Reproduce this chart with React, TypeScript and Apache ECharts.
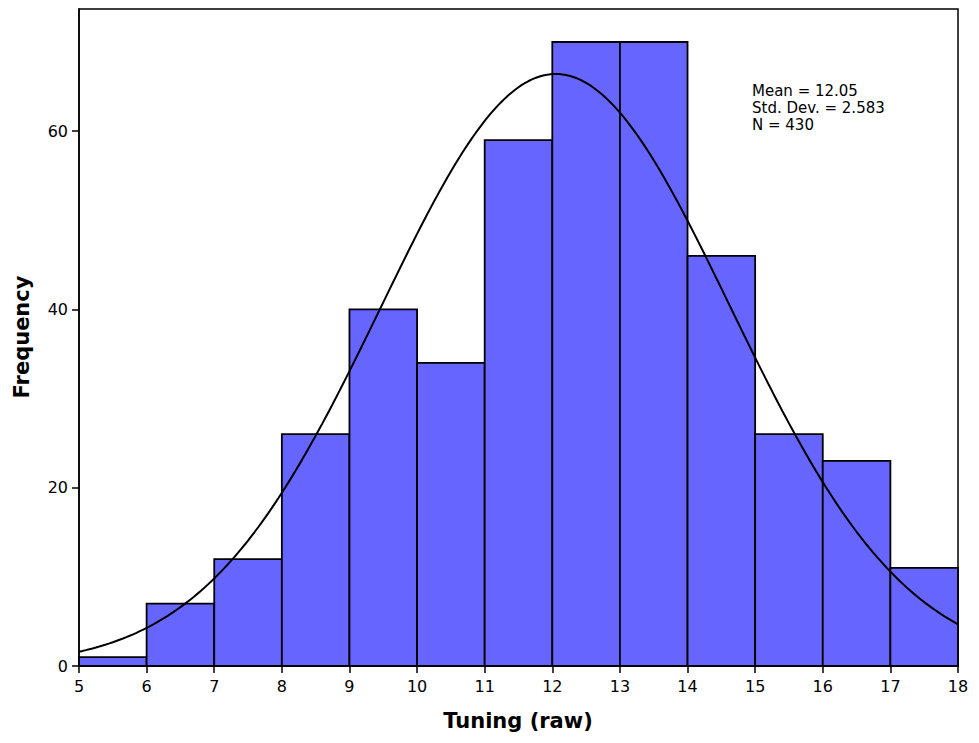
import React, { useEffect, useRef } from "react";
import * as echarts from "echarts";

// Histogram bins: [start, end]
const binStarts = [5, 6, 7, 8, 9, 10, 11, 12, 13, 14, 15, 16, 17];
const binWidth = 1;
const frequencies = [1, 7, 12, 26, 40, 34, 59, 70, 70, 46, 26, 23, 11];

// Summary statistics shown in the chart
const statMean = 12.05;
const statSd = 2.583;
const statN = 430;

const xTicks = [5, 6, 7, 8, 9, 10, 11, 12, 13, 14, 15, 16, 17, 18];
const yTicks = [0, 20, 40, 60];

const FONT = "DejaVu Sans";

export default function App() {
  const ref = useRef<HTMLDivElement>(null);

  useEffect(() => {
    if (!ref.current) return;
    const chart = echarts.init(ref.current, null, { renderer: "svg" });

    const barData = binStarts.map((s, i) => [s, s + binWidth, frequencies[i]]);

    // Fitted normal curve from the displayed statistics
    const curve: number[][] = [];
    const xMin = xTicks[0];
    const xMax = xTicks[xTicks.length - 1];
    for (let k = 0; k <= 260; k++) {
      const x = xMin + ((xMax - xMin) * k) / 260;
      const z = (x - statMean) / statSd;
      const y = (statN * binWidth * Math.exp(-0.5 * z * z)) / (statSd * Math.sqrt(2 * Math.PI));
      curve.push([x, y]);
    }

    chart.setOption({
      animation: false,
      backgroundColor: "#ffffff",
      grid: {
        left: 79,
        right: 21,
        top: 9,
        bottom: 77,
        show: true,
        borderColor: "#000",
        borderWidth: 1.5,
        backgroundColor: "transparent",
      },
      xAxis: {
        type: "value",
        min: xMin,
        max: xMax,
        interval: 1,
        axisLine: { show: true, onZero: false, lineStyle: { color: "#000", width: 1.5 } },
        axisTick: { show: true, length: 7, lineStyle: { color: "#000", width: 1.5 } },
        axisLabel: {
          color: "#000",
          fontFamily: FONT,
          fontSize: 16,
          margin: 12,
          customValues: xTicks,
        },
        splitLine: { show: false },
      },
      yAxis: {
        type: "value",
        min: 0,
        max: 73.7,
        interval: 20,
        axisLine: { show: true, lineStyle: { color: "#000", width: 1.5 } },
        axisTick: { show: true, length: 7, lineStyle: { color: "#000", width: 1.5 }, customValues: yTicks },
        axisLabel: {
          color: "#000",
          fontFamily: FONT,
          fontSize: 16,
          margin: 11,
          customValues: yTicks,
        },
        splitLine: { show: false },
      },
      series: [
        {
          type: "custom",
          data: barData,
          encode: { x: [0, 1], y: 2 },
          z: 2,
          renderItem: (params: any, api: any) => {
            const p0 = api.coord([api.value(0), api.value(2)]);
            const p1 = api.coord([api.value(1), 0]);
            return {
              type: "rect",
              shape: { x: p0[0], y: p0[1], width: p1[0] - p0[0], height: p1[1] - p0[1] },
              style: { fill: "#6666ff", stroke: "#000", lineWidth: 1.8 },
            };
          },
        },
        {
          type: "line",
          data: curve,
          showSymbol: false,
          symbol: "none",
          smooth: false,
          z: 3,
          lineStyle: { color: "#000", width: 2 },
        },
      ],
      graphic: [
        {
          type: "text",
          x: 518,
          y: 721,
          style: {
            text: "Tuning (raw)",
            font: `bold 21px "${FONT}"`,
            fill: "#000",
            align: "center",
            verticalAlign: "middle",
          },
        },
        {
          type: "text",
          x: 22,
          y: 337,
          rotation: Math.PI / 2,
          style: {
            text: "Frequency",
            font: `bold 21px "${FONT}"`,
            fill: "#000",
            align: "center",
            verticalAlign: "middle",
          },
        },
        {
          type: "text",
          x: 752,
          y: 82,
          style: {
            text: `Mean = ${statMean.toFixed(2)}\nStd. Dev. = ${statSd.toFixed(3)}\nN = ${statN}`,
            font: `15px "${FONT}"`,
            lineHeight: 17,
            fill: "#000",
            align: "left",
            verticalAlign: "top",
          },
        },
      ],
    });

    return () => chart.dispose();
  }, []);

  return (
    <div
      ref={ref}
      style={{ position: "fixed", left: 0, top: 0, width: 979, height: 743, background: "#fff" }}
    />
  );
}
